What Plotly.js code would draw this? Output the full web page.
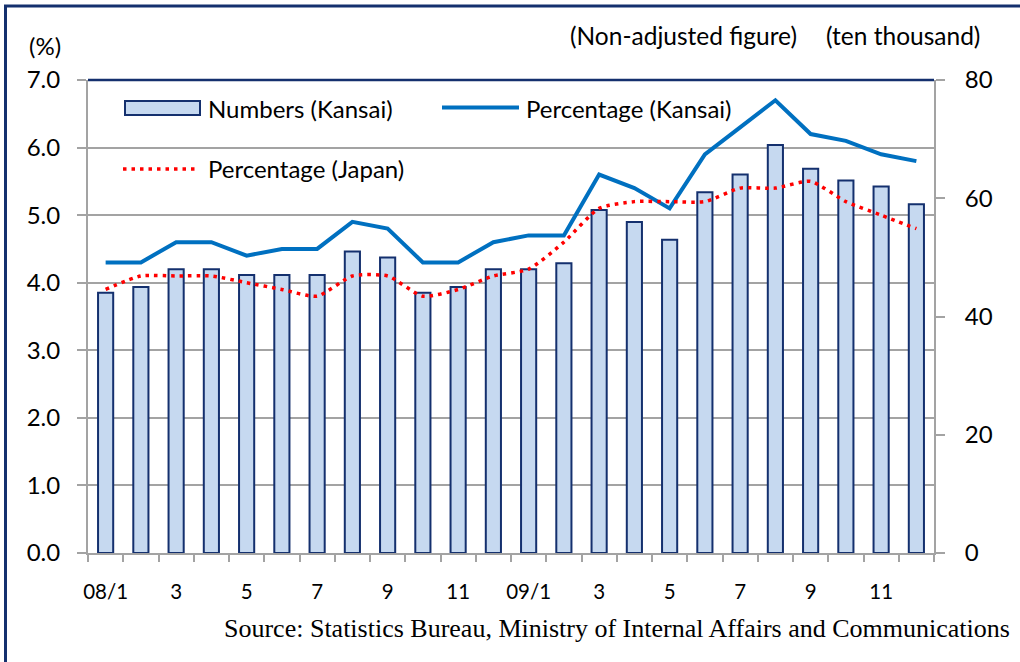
<!DOCTYPE html>
<html>
<head>
<meta charset="utf-8">
<script src="https://cdn.plot.ly/plotly-3.0.1.min.js"></script>
<style>
  html, body { margin: 0; padding: 0; background: #fff; }
  #chart { width: 1020px; height: 662px; }
</style>
</head>
<body>
<div id="chart"></div>
<script>
// months, Jan 2008 - Dec 2009
const months = ['08/1','08/2','08/3','08/4','08/5','08/6','08/7','08/8','08/9','08/10','08/11','08/12',
                '09/1','09/2','09/3','09/4','09/5','09/6','09/7','09/8','09/9','09/10','09/11','09/12'];
const tickLabels = ['08/1','','3','','5','','7','','9','','11','',
                    '09/1','','3','','5','','7','','9','','11',''];

// unemployed persons in Kansai (ten thousand) - right axis
const numbersKansai = [44, 45, 48, 48, 47, 47, 47, 51, 50, 44, 45, 48,
                       48, 49, 58, 56, 53, 61, 64, 69, 65, 63, 62, 59];
// unemployment rate (%) - left axis
const pctKansai = [4.3, 4.3, 4.6, 4.6, 4.4, 4.5, 4.5, 4.9, 4.8, 4.3, 4.3, 4.6,
                   4.7, 4.7, 5.6, 5.4, 5.1, 5.9, 6.3, 6.7, 6.2, 6.1, 5.9, 5.8];
const pctJapan = [3.9, 4.1, 4.1, 4.1, 4.0, 3.9, 3.8, 4.1, 4.1, 3.8, 3.9, 4.1,
                  4.2, 4.6, 5.1, 5.2, 5.2, 5.2, 5.4, 5.4, 5.5, 5.2, 5.0, 4.8];

const FONT = 'Lato, "Open Sans", sans-serif';
const NAVY = '#14306e';
const GRID = '#a3a3a3';

// plot area in pixels
const L = 88, R = 934, T = 80, B = 553;
const px = x => (x - L) / (R - L);
const py = y => (B - y) / (B - T);

const traces = [
  {
    x: months, y: numbersKansai, type: 'bar', yaxis: 'y',
    name: 'Numbers (Kansai)',
    marker: { color: '#c6d9f0', line: { color: NAVY, width: 2 } },
    showlegend: false
  },
  {
    x: months, y: pctKansai, type: 'scatter', mode: 'lines', yaxis: 'y2',
    name: 'Percentage (Kansai)',
    line: { color: '#0070c0', width: 4 },
    showlegend: false
  },
  {
    x: months, y: pctJapan, type: 'scatter', mode: 'lines', yaxis: 'y2',
    name: 'Percentage (Japan)',
    line: { color: '#ff0000', width: 3.5, dash: '3.5px,5px', shape: 'spline', smoothing: 0.6 },
    showlegend: false
  }
];

const layout = {
  width: 1020, height: 662,
  margin: { l: L, r: 1020 - R, t: T, b: 662 - B },
  paper_bgcolor: '#fff', plot_bgcolor: '#fff',
  font: { family: FONT, color: '#000', size: 22 },
  bargap: 0.57,
  xaxis: {
    type: 'category',
    tickmode: 'array', tickvals: months, ticktext: tickLabels,
    tickson: 'boundaries', tickangle: 0,
    ticks: 'outside', ticklen: 7, tickcolor: GRID, tickwidth: 2,
    showline: true, linecolor: GRID, linewidth: 2,
    showgrid: false, zeroline: false,
    tickfont: { size: 20.5 }, ticklabelstandoff: 19,
    fixedrange: true
  },
  yaxis: {
    side: 'right', range: [0, 80], tickmode: 'array', tickvals: [0, 20, 40, 60, 80],
    ticks: 'outside', ticklen: 9, tickcolor: GRID, tickwidth: 2,
    showline: true, linecolor: GRID, linewidth: 2,
    showgrid: false, zeroline: false,
    tickfont: { size: 24 }, ticklabelstandoff: 15
  },
  yaxis2: {
    side: 'left', overlaying: 'y', range: [0, 7], tickmode: 'linear', tick0: 0, dtick: 1,
    tickformat: '.1f',
    ticks: 'outside', ticklen: 9, tickcolor: GRID, tickwidth: 2,
    showline: true, linecolor: GRID, linewidth: 2,
    showgrid: true, gridcolor: GRID, gridwidth: 2, zeroline: false,
    tickfont: { size: 24 }, ticklabelstandoff: 12
  },
  shapes: [
    // outer frame
    { type: 'rect', xref: 'paper', yref: 'paper', x0: px(5.5), y0: py(680), x1: px(1040), y1: py(6),
      line: { color: NAVY, width: 3 }, fillcolor: 'rgba(0,0,0,0)' },
    // top edge of plot area
    { type: 'line', xref: 'paper', yref: 'paper', x0: 0, x1: 1, y0: 1, y1: 1,
      line: { color: NAVY, width: 2.5 } },
    // legend swatches
    { type: 'rect', xref: 'paper', yref: 'paper', x0: px(125), x1: px(200), y0: py(115), y1: py(101),
      fillcolor: '#c6d9f0', line: { color: NAVY, width: 2 } },
    { type: 'line', xref: 'paper', yref: 'paper', x0: px(442), x1: px(519), y0: py(107.5), y1: py(107.5),
      line: { color: '#0070c0', width: 4 } },
    { type: 'line', xref: 'paper', yref: 'paper', x0: px(123), x1: px(196), y0: py(169), y1: py(169),
      line: { color: '#ff0000', width: 3.5, dash: '3.5px,5px' } }
  ],
  annotations: [
    { text: 'Numbers (Kansai)', xref: 'paper', yref: 'paper', x: px(206), y: py(108),
      xanchor: 'left', yanchor: 'middle', showarrow: false, font: { size: 24 } },
    { text: 'Percentage (Kansai)', xref: 'paper', yref: 'paper', x: px(524), y: py(108),
      xanchor: 'left', yanchor: 'middle', showarrow: false, font: { size: 24 } },
    { text: 'Percentage (Japan)', xref: 'paper', yref: 'paper', x: px(206), y: py(168),
      xanchor: 'left', yanchor: 'middle', showarrow: false, font: { size: 24 } },
    { text: '(%)', xref: 'paper', yref: 'paper', x: px(45), y: py(45),
      xanchor: 'center', yanchor: 'middle', showarrow: false, font: { size: 24 } },
    { text: '(Non-adjusted figure)', xref: 'paper', yref: 'paper', x: px(568), y: py(35),
      xanchor: 'left', yanchor: 'middle', showarrow: false, font: { size: 24.5 } },
    { text: '(ten thousand)', xref: 'paper', yref: 'paper', x: px(824), y: py(35),
      xanchor: 'left', yanchor: 'middle', showarrow: false, font: { size: 24.5 } },
    { text: 'Source: Statistics Bureau, Ministry of Internal Affairs and Communications',
      xref: 'paper', yref: 'paper', x: px(222), y: py(628),
      xanchor: 'left', yanchor: 'middle', showarrow: false,
      font: { family: '"Liberation Serif", "Times New Roman", serif', size: 26 } }
  ]
};

Plotly.newPlot('chart', traces, layout, { displayModeBar: false, staticPlot: true });
</script>
</body>
</html>
